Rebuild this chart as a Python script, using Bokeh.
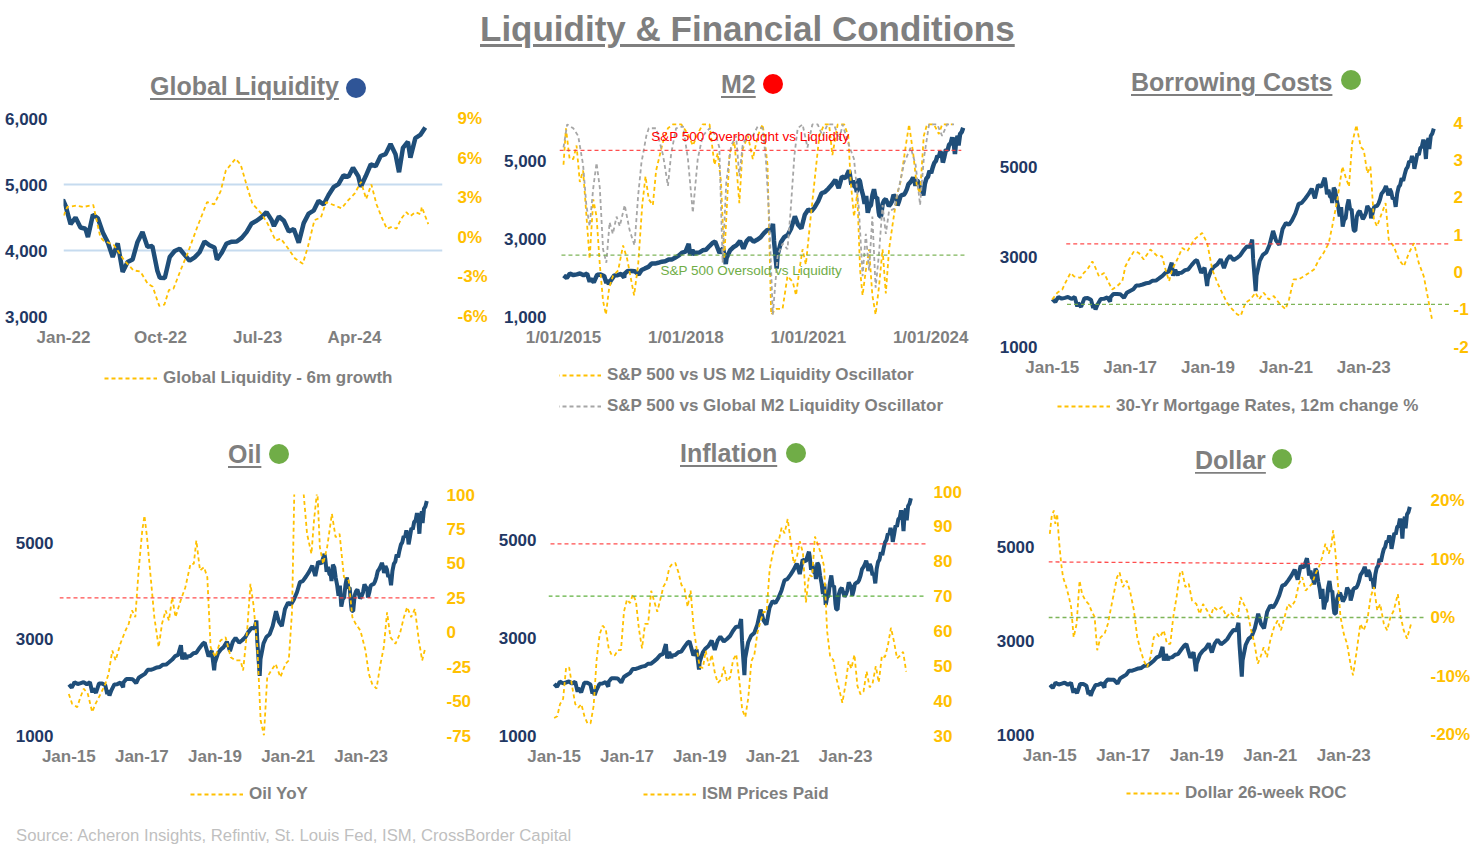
import pandas as pd
from bokeh.plotting import figure
from bokeh.models import (Range1d, LinearAxis, FixedTicker, NumeralTickFormatter, PrintfTickFormatter,
                          CustomJSTickFormatter, Legend, LegendItem, Label, Div, Grid)
from bokeh.layouts import column, row
from bokeh.embed import file_html
from bokeh.resources import INLINE

# ---------------- DATA ----------------
sp_dates = ["2015-01-02", "2015-01-30", "2015-02-27", "2015-03-31", "2015-04-30", "2015-05-29", "2015-06-30",
            "2015-07-31", "2015-08-24", "2015-08-31", "2015-09-29", "2015-10-30", "2015-11-30", "2015-12-31",
            "2016-01-20", "2016-01-29", "2016-02-11", "2016-02-29", "2016-03-31", "2016-04-29", "2016-05-31",
            "2016-06-27", "2016-06-30", "2016-07-29", "2016-08-31", "2016-09-30", "2016-11-04", "2016-11-30",
            "2016-12-30", "2017-01-31", "2017-02-28", "2017-03-31", "2017-04-28", "2017-05-31", "2017-06-30",
            "2017-07-31", "2017-08-31", "2017-09-29", "2017-10-31", "2017-11-30", "2017-12-29", "2018-01-26",
            "2018-02-08", "2018-02-28", "2018-03-23", "2018-03-29", "2018-04-30", "2018-05-31", "2018-06-29",
            "2018-07-31", "2018-08-31", "2018-09-20", "2018-10-29", "2018-11-30", "2018-12-24", "2018-12-31",
            "2019-01-31", "2019-02-28", "2019-03-29", "2019-04-30", "2019-05-31", "2019-06-28", "2019-07-26",
            "2019-08-30", "2019-09-30", "2019-10-31", "2019-11-29", "2019-12-31", "2020-01-31", "2020-02-19",
            "2020-02-28", "2020-03-23", "2020-03-31", "2020-04-30", "2020-05-29", "2020-06-30", "2020-07-31",
            "2020-09-02", "2020-09-30", "2020-10-30", "2020-11-30", "2020-12-31", "2021-01-29", "2021-02-26",
            "2021-03-31", "2021-04-30", "2021-05-28", "2021-06-30", "2021-07-30", "2021-08-31", "2021-09-30",
            "2021-10-29", "2021-11-30", "2021-12-31", "2022-01-07", "2022-01-21", "2022-02-04", "2022-02-18",
            "2022-03-04", "2022-03-11", "2022-03-25", "2022-04-08", "2022-04-22", "2022-05-06", "2022-05-20",
            "2022-06-03", "2022-06-17", "2022-07-01", "2022-07-15", "2022-07-29", "2022-08-12", "2022-08-26",
            "2022-09-09", "2022-09-23", "2022-09-30", "2022-10-14", "2022-10-28", "2022-11-11", "2022-11-25",
            "2022-12-09", "2022-12-23", "2023-01-06", "2023-01-20", "2023-02-03", "2023-02-17", "2023-03-03",
            "2023-03-10", "2023-03-24", "2023-04-06", "2023-04-21", "2023-05-05", "2023-05-19", "2023-06-02",
            "2023-06-16", "2023-06-30", "2023-07-14", "2023-07-28", "2023-08-11", "2023-08-18", "2023-09-01",
            "2023-09-15", "2023-09-29", "2023-10-13", "2023-10-27", "2023-11-10", "2023-11-24", "2023-12-08",
            "2023-12-22", "2024-01-05", "2024-01-19", "2024-02-02", "2024-02-16", "2024-03-01", "2024-03-15",
            "2024-03-28", "2024-04-12", "2024-04-19", "2024-05-03", "2024-05-17", "2024-05-31", "2024-06-14",
            "2024-06-28", "2024-07-12", "2024-07-26", "2024-08-05", "2024-08-16", "2024-08-30", "2024-09-06",
            "2024-09-20", "2024-10-04", "2024-10-18"]
sp_values = [2058, 1995, 2105, 2068, 2086, 2107, 2063, 2104, 1893, 1972, 1884, 2079, 2080, 2044,
             1859, 1940, 1829, 1932, 2060, 2065, 2097, 2001, 2099, 2174, 2171, 2168, 2085, 2199,
             2239, 2279, 2364, 2363, 2384, 2412, 2423, 2470, 2472, 2519, 2575, 2648, 2674, 2873,
             2581, 2714, 2588, 2641, 2648, 2705, 2718, 2816, 2902, 2931, 2641, 2760, 2351, 2507,
             2704, 2784, 2834, 2946, 2752, 2942, 3026, 2926, 2977, 3038, 3141, 3231, 3226, 3386,
             2954, 2237, 2585, 2912, 3044, 3100, 3271, 3580, 3363, 3270, 3622, 3756, 3714, 3811,
             3973, 4181, 4204, 4298, 4395, 4523, 4308, 4605, 4567, 4766, 4677, 4398, 4500, 4349,
             4329, 4204, 4543, 4488, 4272, 4123, 3901, 4109, 3675, 3825, 3863, 4130, 4280, 4058,
             4067, 3693, 3586, 3583, 3901, 3993, 4026, 3934, 3845, 3895, 3973, 4136, 4079, 4046,
             3862, 3971, 4105, 4133, 4136, 4192, 4282, 4410, 4450, 4505, 4582, 4464, 4370, 4515,
             4450, 4288, 4327, 4117, 4415, 4559, 4604, 4755, 4697, 4840, 4959, 5006, 5137, 5117,
             5254, 5123, 4967, 5128, 5303, 5278, 5432, 5460, 5615, 5459, 5186, 5554, 5648, 5408,
             5703, 5751, 5864]

gl_x = [2022.00, 2022.03, 2022.10, 2022.155, 2022.23, 2022.285, 2022.31, 2022.39, 2022.47, 2022.54, 2022.595,
        2022.65, 2022.69, 2022.74, 2022.78, 2022.815, 2022.85, 2022.905, 2022.96, 2023.035, 2023.11, 2023.165,
        2023.215, 2023.255, 2023.33, 2023.37, 2023.42, 2023.46, 2023.53, 2023.58, 2023.64, 2023.68, 2023.73,
        2023.79, 2023.85, 2023.89, 2023.94, 2023.99, 2024.03, 2024.10, 2024.15, 2024.20, 2024.25, 2024.30,
        2024.34, 2024.38, 2024.42, 2024.46, 2024.50, 2024.54, 2024.575, 2024.61, 2024.65, 2024.68, 2024.72,
        2024.76, 2024.77, 2024.82]
gl_y = [1.65, 2.3, 2.4, 2.3, 2.45, 0.0, -0.25, -0.6, -1.75, -2.5, -2.6, -3.5, -3.75, -5.2, -5.1, -4.0, -3.9,
        -2.5, -1.2, 0.8, 2.66, 2.5, 3.5, 5.06, 5.95, 5.5, 3.8, 2.55, 1.8, 1.0, -0.25, -0.1, -0.75, -1.6, -2.0,
        -0.7, 1.3, 1.5, 2.66, 2.4, 2.2, 2.8, 3.3, 4.2, 2.9, 4.0, 2.5, 1.5, 0.65, 0.8, 0.65, 1.4, 1.9, 1.6,
        1.9, 1.75, 2.3, 1.0]

us_osc_x = [2015.00, 2015.06, 2015.15, 2015.24, 2015.32, 2015.40, 2015.48, 2015.56, 2015.64, 2015.73, 2015.81,
            2015.89, 2015.97, 2016.04, 2016.12, 2016.21, 2016.34, 2016.46, 2016.56, 2016.64, 2016.73, 2016.83,
            2016.93, 2017.01, 2017.09, 2017.19, 2017.27, 2017.36, 2017.44, 2017.56, 2017.68, 2017.89, 2018.05,
            2018.17, 2018.29, 2018.41, 2018.58, 2018.70, 2018.78, 2018.86, 2018.94, 2019.07, 2019.19, 2019.31,
            2019.39, 2019.52, 2019.64, 2019.76, 2019.88, 2019.92, 2020.00, 2020.09, 2020.21, 2020.37, 2020.49,
            2020.62, 2020.70, 2020.78, 2020.86, 2020.94, 2021.06, 2021.15, 2021.27, 2021.39, 2021.51, 2021.59,
            2021.72, 2021.88, 2021.98, 2022.04, 2022.12, 2022.20, 2022.27, 2022.33, 2022.41, 2022.49, 2022.57,
            2022.65, 2022.73, 2022.82, 2022.90, 2022.98, 2023.06, 2023.18, 2023.26, 2023.39, 2023.47, 2023.57,
            2023.66, 2023.74, 2023.83, 2023.91, 2024.08, 2024.20, 2024.28, 2024.53]
us_osc_y = [79, 98, 82, 82, 89, 70, 76, 53, 30, 61, 52, 27, 8, 1, 15, 21, 24, 37, 30, 21, 11, 27, 58, 73, 61,
            58, 76, 84, 91, 98, 100, 100, 95, 89, 95, 100, 100, 79, 85, 70, 30, 85, 91, 59, 87, 94, 82, 94,
            100, 94, 79, 1, 4, 4, 21, 18, 11, 24, 35, 27, 52, 70, 94, 100, 100, 84, 100, 100, 94, 70, 52, 64,
            24, 11, 24, 35, 11, 1, 15, 35, 12, 35, 47, 64, 70, 89, 100, 85, 68, 64, 94, 100, 100, 95, 100, 100]
gl_osc_x = [2015.00, 2015.09, 2015.24, 2015.36, 2015.48, 2015.56, 2015.64, 2015.73, 2015.81, 2015.89, 2015.97,
            2016.05, 2016.13, 2016.21, 2016.30, 2016.38, 2016.50, 2016.62, 2016.74, 2016.83, 2016.91, 2017.03,
            2017.09, 2017.27, 2017.44, 2017.56, 2017.64, 2017.76, 2017.93, 2018.05, 2018.17, 2018.29, 2018.41,
            2018.58, 2018.74, 2018.82, 2018.90, 2018.99, 2019.11, 2019.23, 2019.31, 2019.39, 2019.52, 2019.64,
            2019.76, 2019.88, 2019.96, 2020.04, 2020.13, 2020.25, 2020.37, 2020.49, 2020.57, 2020.66, 2020.74,
            2020.86, 2020.98, 2021.10, 2021.23, 2021.35, 2021.47, 2021.63, 2021.76, 2021.84, 2022.00, 2022.12,
            2022.24, 2022.33, 2022.41, 2022.49, 2022.57, 2022.65, 2022.73, 2022.82, 2022.90, 2022.98, 2023.10,
            2023.22, 2023.35, 2023.51, 2023.63, 2023.74, 2023.83, 2023.96, 2024.16, 2024.28, 2024.40, 2024.57]
gl_osc_y = [88, 100, 98, 94, 79, 58, 47, 67, 80, 67, 35, 28, 49, 43, 52, 47, 58, 45, 37, 63, 80, 94, 98, 98,
            84, 68, 85, 98, 99, 82, 54, 82, 94, 98, 94, 88, 28, 70, 89, 94, 73, 89, 95, 94, 99, 98, 82, 52, 1,
            32, 38, 35, 56, 84, 98, 100, 88, 100, 100, 94, 100, 100, 92, 100, 89, 82, 56, 21, 43, 24, 52, 15,
            32, 58, 43, 55, 56, 67, 80, 88, 79, 58, 82, 100, 100, 94, 100, 100]
m2_overbought = 86.5
m2_oversold = 32.0

mort_x = [2015.00, 2015.13, 2015.26, 2015.34, 2015.47, 2015.56, 2015.73, 2015.81, 2015.90, 2016.03, 2016.11,
          2016.20, 2016.33, 2016.45, 2016.54, 2016.67, 2016.80, 2016.88, 2016.97, 2017.10, 2017.22, 2017.35,
          2017.52, 2017.70, 2017.82, 2017.91, 2018.00, 2018.08, 2018.21, 2018.34, 2018.47, 2018.64, 2018.85,
          2018.98, 2019.11, 2019.24, 2019.36, 2019.49, 2019.62, 2019.75, 2019.84, 2019.96, 2020.09, 2020.22,
          2020.31, 2020.43, 2020.56, 2020.69, 2020.82, 2020.99, 2021.08, 2021.20, 2021.33, 2021.46, 2021.59,
          2021.72, 2021.85, 2021.97, 2022.10, 2022.19, 2022.32, 2022.45, 2022.53, 2022.62, 2022.70, 2022.81,
          2022.92, 2023.00, 2023.09, 2023.17, 2023.26, 2023.34, 2023.43, 2023.56, 2023.64, 2023.77, 2023.90,
          2024.03, 2024.16, 2024.29, 2024.41, 2024.54, 2024.67, 2024.76]
mort_y = [-0.74, -0.56, -0.47, -0.29, -0.03, -0.12, -0.16, -0.03, 0.06, 0.28, 0.11, -0.12, -0.03, -0.29, -0.47,
          -0.38, -0.25, 0.15, 0.33, 0.55, 0.51, 0.33, 0.60, 0.42, 0.42, 0.06, -0.25, 0.06, 0.33, 0.64, 0.55,
          0.86, 1.04, 0.77, 0.06, -0.29, -0.56, -0.83, -1.00, -1.14, -1.18, -0.83, -0.74, -0.56, -0.74, -0.56,
          -0.74, -0.65, -0.83, -1.00, -0.74, -0.20, -0.20, -0.12, -0.03, 0.06, 0.33, 0.51, 0.77, 1.22, 1.93,
          2.82, 2.55, 2.28, 3.44, 3.93, 3.35, 3.26, 2.64, 2.82, 1.40, 1.22, 1.48, 1.84, 0.86, 0.68, 0.33, 0.15,
          0.51, 0.77, 0.24, -0.12, -0.83, -1.32]
mort_hi = 0.75
mort_lo = -0.87

oil_x = [2015.00, 2015.09, 2015.23, 2015.32, 2015.41, 2015.52, 2015.64, 2015.73, 2015.87, 2016.00, 2016.09,
         2016.19, 2016.28, 2016.41, 2016.55, 2016.64, 2016.73, 2016.82, 2016.91, 2017.01, 2017.07, 2017.14,
         2017.24, 2017.34, 2017.46, 2017.55, 2017.65, 2017.74, 2017.83, 2017.92, 2018.06, 2018.19, 2018.33,
         2018.42, 2018.49, 2018.59, 2018.70, 2018.79, 2018.88, 2019.01, 2019.15, 2019.29, 2019.43, 2019.56,
         2019.70, 2019.77, 2019.88, 2019.97, 2020.05, 2020.16, 2020.25, 2020.34, 2020.43, 2020.54, 2020.66,
         2020.79, 2020.93, 2021.02, 2021.11, 2021.18, 2021.28, 2021.39, 2021.52, 2021.64, 2021.71, 2021.80,
         2021.87, 2021.96, 2022.07, 2022.20, 2022.30, 2022.41, 2022.53, 2022.66, 2022.76, 2022.85, 2022.98,
         2023.12, 2023.21, 2023.30, 2023.42, 2023.53, 2023.62, 2023.71, 2023.80, 2023.94, 2024.06, 2024.17,
         2024.26, 2024.37, 2024.47, 2024.58, 2024.67, 2024.76]
oil_y = [-44.8, -52, -54.4, -47, -41, -44.8, -58, -52, -44.8, -37.5, -30, -13.3, -20.5, -8.4, 1.2, 6.1, 15.8,
         10.9, 44.8, 73.9, 84.7, 69, 40, 10.9, -10.9, 6.1, 15.8, 8.5, 25.4, 10.9, 23, 32.7, 49.6, 49.6, 66.6,
         44.8, 47.2, 40, -10.9, -18.1, -6, -3.6, -18.1, -20.5, -20.5, -27.8, 1.2, 35.1, 20.6, -10.9, -64.1,
         -75, -32.6, -27.8, -23, -32.6, -23, -20.5, 15.8, 115, 108, 112, 71.4, 56.9, 81.1, 104, 61.8, 49.6,
         61.8, 86, 69, 71.4, 40, 37.5, 10.9, 6.1, 1.2, -13.3, -30.2, -37.5, -41, -23, -10.9, 14.5, -3.6, -8.4,
         -1.2, 10.9, 18.2, 10.9, 17, -6, -20.5, -10.9]
oil_hi = 25

ism_start = "2015-01-01"
ism_y = [35, 35.5, 39, 40.5, 49.5, 49.5, 44, 39, 38, 39, 35.5, 33.5,
         33.5, 38.5, 51.5, 59, 61.5, 60.5, 55, 53, 53, 54.5, 54.5, 65.5,
         69, 68, 70.5, 68.5, 60.5, 55, 62, 62, 71.5, 68.5, 65.5, 69,
         72.7, 74.2, 78.1, 79.3, 79.5, 76.8, 73.2, 72.1, 66.9, 71.6, 60.7, 54.9,
         49.6, 49.4, 54.3, 50, 53.2, 47.9, 45.1, 46, 49.7, 45.5, 46.7, 51.7,
         53.3, 45.9, 37.4, 35.3, 40.8, 51.3, 53.2, 59.5, 62.8, 65.5, 65.4, 77.6,
         82.1, 86, 85.6, 89.6, 88, 92.1, 85.7, 79.4, 81.2, 85.7, 82.4, 68.2,
         76.1, 75.6, 87.1, 84.6, 82.2, 78.5, 60, 52.5, 51.7, 46.6, 43, 39.4,
         44.5, 51.3, 49.2, 53.2, 44.2, 41.8, 42.6, 48.4, 43.8, 45.1, 49.9, 45.2,
         52.9, 52.5, 55.8, 60.9, 57, 52.1, 52.9, 54, 48.3]
ism_hi = 85
ism_lo = 70

usd_x = [2015.00, 2015.05, 2015.11, 2015.15, 2015.20, 2015.25, 2015.31, 2015.36, 2015.45, 2015.52, 2015.58,
         2015.65, 2015.73, 2015.81, 2015.88, 2015.97, 2016.06, 2016.15, 2016.22, 2016.29, 2016.38, 2016.49,
         2016.58, 2016.67, 2016.74, 2016.83, 2016.90, 2016.99, 2017.09, 2017.18, 2017.29, 2017.38, 2017.47,
         2017.56, 2017.65, 2017.74, 2017.83, 2017.92, 2017.99, 2018.10, 2018.19, 2018.28, 2018.36, 2018.45,
         2018.54, 2018.60, 2018.69, 2018.78, 2018.87, 2018.99, 2019.08, 2019.17, 2019.28, 2019.37, 2019.46,
         2019.57, 2019.69, 2019.81, 2019.92, 2020.03, 2020.12, 2020.19, 2020.28, 2020.37, 2020.48, 2020.57,
         2020.66, 2020.73, 2020.82, 2020.91, 2021.00, 2021.10, 2021.20, 2021.29, 2021.39, 2021.48, 2021.57,
         2021.68, 2021.78, 2021.87, 2021.96, 2022.05, 2022.14, 2022.23, 2022.32, 2022.41, 2022.50, 2022.59,
         2022.66, 2022.71, 2022.76, 2022.84, 2022.91, 2023.00, 2023.09, 2023.18, 2023.25, 2023.34, 2023.45,
         2023.54, 2023.64, 2023.73, 2023.82, 2023.91, 2023.99, 2024.09, 2024.18, 2024.27, 2024.36, 2024.47,
         2024.55, 2024.63, 2024.72, 2024.83]
usd_y = [14.3, 17.2, 18.3, 16, 17.7, 13.2, 9.2, 6.9, 5.2, 3.5, 1.8, -3.4, -1.1, 6.3, 4.0, 2.9, 2.3, 0.9, 0.1,
         -5.6, -3.4, -2.8, -1.1, 1.8, 4.0, 6.9, 7.7, 5.2, 6.3, 4.6, 1.2, -3.4, -5.6, -7.4, -8.5, -6.8, -3.4,
         -2.8, -3.4, -2.2, -4.5, -4.5, 0.1, 3.5, 7.5, 8.0, 5.2, 5.8, 2.9, 2.3, 0.6, 2.3, 1.2, 0.1, 1.8, 1.2,
         1.8, 0.1, 0.9, 0.1, 0.1, 3.5, 2.3, 1.2, -2.2, -4.5, -7.9, -6.8, -5.1, -6.8, -3.9, -1.7, -0.5, -2.2,
         0.1, 2.3, 1.8, 2.9, 5.8, 6.9, 4.6, 5.2, 5.8, 7.5, 8.6, 10.3, 12.6, 10.9, 12.3, 14.9, 12.0, 5.8, 0.1,
         -2.8, -4.5, -7.9, -9.9, -6.2, -1.1, -2.2, -0.5, 3.5, 5.2, 1.2, 2.3, -1.1, -2.2, 0.1, 1.2, 4.0, 0.1,
         -2.2, -3.6, -1.1]
usd_hi = [9.5, 9.1]
usd_lo = 0.0

p1_xticks = [2022.0, 2022.75, 2023.5, 2024.25]
p1_xlabels = ["Jan-22", "Oct-22", "Jul-23", "Apr-24"]
p2_xticks = [2015.0, 2018.0, 2021.0, 2024.0]
p2_xlabels = ["1/01/2015", "1/01/2018", "1/01/2021", "1/01/2024"]
std_xticks = [2015.0, 2017.0, 2019.0, 2021.0, 2023.0]
std_xlabels = ["Jan-15", "Jan-17", "Jan-19", "Jan-21", "Jan-23"]

# ---------------- STYLE ----------------
FONT = "Liberation Sans"
NAVY = "#1f4e79"
NAVY_TXT = "#1f3864"
GOLD = "#ffc000"
GRAYT = "#7f7f7f"
OSC_GRAY = "#a6a6a6"
RED = "#ff3b3b"
GREEN = "#70ad47"
DASH = "4 3"
NAN = float("nan")


def dec_year(dates):
    d = pd.to_datetime(pd.Series(dates))
    return (d.dt.year + (d.dt.dayofyear - 1) / 365.25).tolist()


sp_x = dec_year(sp_dates)
ism_x = dec_year(pd.date_range(ism_start, periods=len(ism_y), freq="MS"))


def style_axis(ax, color, standoff, size="17px"):
    ax.axis_line_color = None
    ax.major_tick_line_color = None
    ax.minor_tick_line_color = None
    ax.major_tick_in = 0
    ax.major_tick_out = 0
    ax.minor_tick_in = 0
    ax.minor_tick_out = 0
    ax.major_label_text_font = FONT
    ax.major_label_text_font_style = "bold"
    ax.major_label_text_font_size = size
    ax.major_label_text_color = color
    ax.major_label_standoff = standoff


def make_fig(w, h, bl, br, bt, bb, xr, yl, left_ticks, left_fmt, ls, xticks, xlabels, xs):
    p = figure(width=w, height=h, x_range=Range1d(*xr), y_range=Range1d(*yl),
               output_backend="svg", toolbar_location=None,
               min_border_left=bl, min_border_right=br, min_border_top=bt, min_border_bottom=bb,
               background_fill_color="white", border_fill_color="white", outline_line_color=None)
    p.xgrid.visible = False
    p.ygrid.visible = False
    p.yaxis.ticker = FixedTicker(ticks=left_ticks)
    p.yaxis.formatter = NumeralTickFormatter(format=left_fmt)
    style_axis(p.yaxis[0], NAVY_TXT, ls)
    p.xaxis.ticker = FixedTicker(ticks=xticks)
    p.xaxis.formatter = CustomJSTickFormatter(args=dict(labels=xlabels),
                                              code="return labels[index] === undefined ? '' : labels[index];")
    style_axis(p.xaxis[0], GRAYT, xs)
    return p


def add_right(p, yr, ticks, fmt, standoff):
    p.extra_y_ranges = {"right": Range1d(*yr)}
    ax = LinearAxis(y_range_name="right", ticker=FixedTicker(ticks=ticks), formatter=PrintfTickFormatter(format=fmt))
    style_axis(ax, GOLD, standoff)
    p.add_layout(ax, "right")


def legend_fig(w, h, items, loc):
    """Strip below a panel that carries its legend (same dashed glyph styles as the panel)."""
    lf = figure(width=w, height=h, x_range=Range1d(0, 1), y_range=Range1d(0, 1),
                output_backend="svg", toolbar_location=None, x_axis_location=None, y_axis_location=None,
                min_border=0, outline_line_color=None, background_fill_color="white",
                border_fill_color="white")
    lf.xgrid.visible = False
    lf.ygrid.visible = False
    entries = []
    for lbl, color in items:
        r = lf.line(x=[NAN, NAN], y=[NAN, NAN], line_color=color, line_width=1.8, line_dash=DASH)
        entries.append(LegendItem(label=lbl, renderers=[r], index=0))
    leg = Legend(items=entries, location=loc, orientation="vertical")
    leg.border_line_color = None
    leg.background_fill_alpha = 0
    leg.label_text_font = FONT
    leg.label_text_font_style = "bold"
    leg.label_text_font_size = "17px"
    leg.label_text_color = GRAYT
    leg.glyph_width = 53
    leg.glyph_height = 20
    leg.label_height = 20
    leg.label_standoff = 6
    leg.spacing = 11
    leg.padding = 0
    leg.margin = 0
    lf.add_layout(leg)
    return lf


def hline(p, xs, ys, color, rng="right"):
    p.line(xs, ys, y_range_name=rng, line_color=color, line_width=1.3, line_dash=DASH, line_alpha=0.9)


def title_div(text, dot, w, h, pl, pt, va, gap=7):
    html = (f'<div style="padding-left:{pl}px;padding-top:{pt}px;white-space:nowrap;'
            f'font-family:\'Liberation Sans\',Arial,sans-serif;font-weight:bold;font-size:25px;'
            f'color:{GRAYT};line-height:normal;">'
            f'<span style="text-decoration:underline;text-decoration-thickness:2px;text-underline-offset:3px">{text}</span>'
            f'<span style="display:inline-block;width:20px;height:20px;border-radius:50%;background:{dot};'
            f'margin-left:{gap}px;vertical-align:{va}px"></span></div>')
    return Div(text=html, width=w, height=h, margin=0)


# ---------------- PANEL 1: Global Liquidity ----------------
f1 = make_fig(500, 250, 63, 58, 18, 34, (2022.0, 2024.93), (3000, 6000), [3000, 4000, 5000, 6000], "0,0", 16,
              p1_xticks, p1_xlabels, 11)
f1.add_layout(Grid(dimension=1, ticker=FixedTicker(ticks=[3000, 4000, 5000]), grid_line_color="#c6dbef",
                   grid_line_width=2))
f1.add_layout(Grid(dimension=1, ticker=FixedTicker(ticks=[6000]), grid_line_color="#eef4fa", grid_line_width=2))
add_right(f1, (-6, 9), [-6, -3, 0, 3, 6, 9], "%d%%", 15)
f1.line(sp_x, sp_values, line_color=NAVY, line_width=4.5)
f1.line(gl_x, gl_y, y_range_name="right", line_color=GOLD, line_width=1.8, line_dash=DASH)
l1 = legend_fig(500, 86, [("Global Liquidity - 6m growth", GOLD)], (41, 48))

# ---------------- PANEL 2: M2 ----------------
f2 = make_fig(487, 250, 58, 22, 22, 34, (2014.902, 2024.853), (1000, 6000), [1000, 3000, 5000], "0,0", 13,
              p2_xticks, p2_xlabels, 11)
f2.extra_y_ranges = {"right": Range1d(0, 101)}
f2.line(sp_x, sp_values, line_color=NAVY, line_width=4.5)
f2.line(us_osc_x, us_osc_y, y_range_name="right", line_color=GOLD, line_width=1.8, line_dash=DASH)
f2.line(gl_osc_x, gl_osc_y, y_range_name="right", line_color=OSC_GRAY, line_width=1.8, line_dash=DASH)
hline(f2, [2014.902, 2024.75], [m2_overbought, m2_overbought], RED)
hline(f2, [2014.95, 2024.853], [m2_oversold, m2_oversold], GREEN)
f2.add_layout(Label(x=2019.58, y=m2_overbought + 7.3, y_range_name="right", text="S&P 500 Overbought vs Liquidity",
                    text_color="#ff0000", text_font=FONT, text_font_size="13.5px", text_align="center",
                    text_baseline="middle"))
f2.add_layout(Label(x=2019.60, y=m2_oversold - 7.8, y_range_name="right", text="S&P 500 Oversold vs Liquidity",
                    text_color=GREEN, text_font=FONT, text_font_size="13.5px", text_align="center",
                    text_baseline="middle"))
l2 = legend_fig(487, 86, [("S&P 500 vs US M2 Liquidity Oscillator", GOLD),
                          ("S&P 500 vs Global M2 Liquidity Oscillator", OSC_GRAY)], (-11, 20))

# ---------------- PANEL 3: Borrowing Costs ----------------
f3 = make_fig(495, 280, 63, 32, 22, 34, (2014.956, 2025.226), (1000, 6000), [1000, 3000, 5000], "0", 13,
              std_xticks, std_xlabels, 11)
add_right(f3, (-2, 4), [-2, -1, 0, 1, 2, 3, 4], "%d", 3)
f3.line(sp_x, sp_values, line_color=NAVY, line_width=4)
f3.line(mort_x, mort_y, y_range_name="right", line_color=GOLD, line_width=1.8, line_dash=DASH)
hline(f3, [2015.36, 2025.226], [mort_hi, mort_hi], RED)
hline(f3, [2015.38, 2025.226], [mort_lo, mort_lo], GREEN)
l3 = legend_fig(495, 56, [("30-Yr Mortgage Rates, 12m change %", GOLD)], (7, 20))

# ---------------- PANEL 4: Oil ----------------
f4 = make_fig(495, 297, 59, 60, 21, 35, (2014.745, 2025.035), (1000, 6000), [1000, 3000, 5000], "0", 6,
              std_xticks, std_xlabels, 11)
add_right(f4, (-75, 100), [-75, -50, -25, 0, 25, 50, 75, 100], "%d", 11)
f4.line(sp_x, sp_values, line_color=NAVY, line_width=4)
f4.line(oil_x, oil_y, y_range_name="right", line_color=GOLD, line_width=1.8, line_dash=DASH)
hline(f4, [2014.745, 2025.035], [oil_hi, oil_hi], RED)
l4 = legend_fig(495, 53, [("Oil YoY", GOLD)], (131, 19))

# ---------------- PANEL 5: Inflation ----------------
f5 = make_fig(488, 297, 50, 55, 18, 35, (2014.845, 2025.28), (1000, 6000), [1000, 3000, 5000], "0", 12,
              std_xticks, std_xlabels, 11)
add_right(f5, (30, 100), [30, 40, 50, 60, 70, 80, 90, 100], "%d", 5)
f5.line(sp_x, sp_values, line_color=NAVY, line_width=4)
f5.line(ism_x, ism_y, y_range_name="right", line_color=GOLD, line_width=1.8, line_dash=DASH)
hline(f5, [2014.9, 2025.28], [ism_hi, ism_hi], RED)
hline(f5, [2014.845, 2025.2], [ism_lo, ism_lo], "#4fa82a")
l5 = legend_fig(488, 53, [("ISM Prices Paid", GOLD)], (95, 19))

# ---------------- PANEL 6: Dollar ----------------
f6 = make_fig(499, 297, 65, 58, 27, 36, (2014.965, 2025.196), (1000, 6000), [1000, 3000, 5000], "0", 14,
              std_xticks, std_xlabels, 11)
add_right(f6, (-20, 20), [-20, -10, 0, 10, 20], "%d%%", 6)
f6.line(sp_x, sp_values, line_color=NAVY, line_width=4)
f6.line(usd_x, usd_y, y_range_name="right", line_color=GOLD, line_width=1.8, line_dash=DASH)
hline(f6, [2014.965, 2025.196], usd_hi, RED)
hline(f6, [2014.965, 2025.196], [usd_lo, usd_lo], GREEN)
l6 = legend_fig(499, 53, [("Dollar 26-week ROC", GOLD)], (78, 20))

# ---------------- TITLES / LAYOUT ----------------
header = Div(text=('<div style="padding-left:480px;padding-top:9px;white-space:nowrap;'
                   'font-family:\'Liberation Sans\',Arial,sans-serif;font-weight:bold;font-size:35px;'
                   f'color:{GRAYT};line-height:normal;text-decoration:underline;text-decoration-thickness:2.5px;'
                   'text-underline-offset:3px">Liquidity &amp; Financial Conditions</div>'),
             width=1482, height=60, margin=0)

t1 = title_div("Global Liquidity", "#2f5597", 500, 40, 150, 12, -3)
t2 = title_div("M2", "#ff0000", 487, 40, 221, 10, -1)
t3 = title_div("Borrowing Costs", GREEN, 495, 40, 144, 8, 1, gap=9)
t4 = title_div("Oil", GREEN, 495, 37, 228, 4, -1, gap=8)
t5 = title_div("Inflation", GREEN, 488, 37, 185, 3, -1, gap=9)
t6 = title_div("Dollar", GREEN, 499, 37, 212, 10, 0, gap=6)

source = Div(text=('<div style="padding-left:16px;padding-top:4px;white-space:nowrap;'
                   'font-family:\'Liberation Sans\',Arial,sans-serif;font-size:16.7px;color:#bfbfbf;'
                   'line-height:18px">Source: Acheron Insights, Refintiv, St. Louis Fed, ISM, CrossBorder Capital</div>'),
             width=1482, height=22, margin=0)

row1 = row(column(t1, f1, l1), column(t2, f2, l2), column(t3, f3, l3))
row2 = row(column(t4, f4, l4), column(t5, f5, l5), column(t6, f6, l6))
root = column(header, row1, row2, source)

open("out.html", "w").write(file_html(root, INLINE))
